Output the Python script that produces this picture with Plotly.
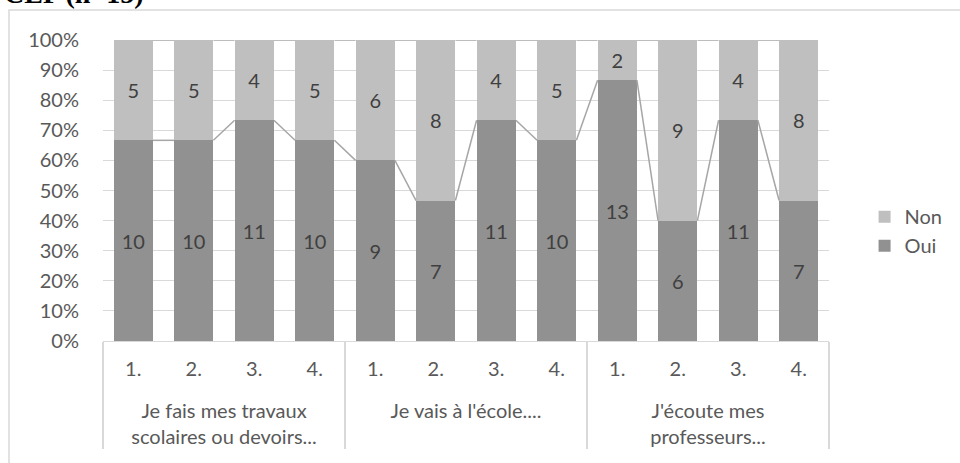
import plotly.graph_objects as go

groups = ["Je fais mes travaux<br>scolaires ou devoirs...",
          "Je vais à l'école....",
          "J'écoute mes<br>professeurs..."]
items = ["1.", "2.", "3.", "4."]
oui = [10, 10, 11, 10, 9, 7, 11, 10, 13, 6, 11, 7]
non = [5, 5, 4, 5, 6, 8, 4, 5, 2, 9, 4, 8]
title_text = "CEP (n=15)"

grp_x = [g for g in groups for _ in items]
item_x = [it + "<br> " for _ in groups for it in items]

C_OUI = "#919191"
C_NON = "#bfbfbf"
C_TXT = "#404040"
C_AX = "#595959"
C_GRID = "#d9d9d9"
FONT = "Lato"
FS = 20
BW = 0.65

fig = go.Figure()
for name, vals, col in (("Oui", oui, C_OUI), ("Non", non, C_NON)):
    fig.add_trace(go.Bar(name=name, x=[grp_x, item_x], y=vals, text=vals,
                         marker=dict(color=col, line=dict(width=0)),
                         width=BW, textposition="inside", insidetextanchor="middle",
                         textangle=0, constraintext="none",
                         textfont=dict(color=C_TXT, size=FS, family=FONT)))

# series lines (Excel style) computed from the data
pct = [o / (o + n) * 100 for o, n in zip(oui, non)]
tot = [100.0 for _ in oui]
for vals in (pct, tot):
    sx, sy = [], []
    for i in range(len(vals) - 1):
        sx += [i + BW / 2, i + 1 - BW / 2, None]
        sy += [vals[i], vals[i + 1], None]
    fig.add_trace(go.Scatter(x=sx, y=sy, xaxis="x2", yaxis="y", mode="lines",
                             line=dict(color="#a6a6a6", width=1.5),
                             showlegend=False, hoverinfo="skip"))

fig.update_layout(
    width=960, height=463,
    margin=dict(l=103, r=119, t=40, b=122),
    paper_bgcolor="white", plot_bgcolor="white",
    barmode="stack", barnorm="percent",
    font=dict(family=FONT, color=C_AX, size=FS),
    xaxis=dict(type="multicategory", range=[-0.5, 11.5], automargin=False,
               showline=True, linecolor=C_GRID, linewidth=1,
               showdividers=True, dividercolor=C_GRID, dividerwidth=1.5,
               tickfont=dict(size=FS, color=C_AX, family=FONT),
               ticklabelstandoff=10,
               ticks="", showgrid=False),
    xaxis2=dict(overlaying="x", range=[-0.5, 11.5], visible=False),
    yaxis=dict(range=[0, 100], dtick=10, ticksuffix="%", automargin=False,
               showgrid=True, gridcolor=C_GRID, gridwidth=1,
               zeroline=False, showline=False, ticks="",
               ticklabelstandoff=23,
               tickfont=dict(size=FS, color=C_AX, family=FONT)),
    legend=dict(x=1.049, xanchor="left", y=0.365, yanchor="middle",
                traceorder="reversed", font=dict(size=FS, color=C_AX, family=FONT),
                itemwidth=30, bgcolor="rgba(0,0,0,0)"),
    showlegend=True,
    shapes=[dict(type="rect", xref="paper", yref="paper",
                 xsizemode="pixel", ysizemode="pixel",
                 xanchor=0, yanchor=1, x0=-94, x1=900, y0=30, y1=-500,
                 line=dict(color=C_GRID, width=1.5), fillcolor="rgba(0,0,0,0)",
                 layer="below")],
    annotations=[dict(text="<b>" + title_text + "</b>", xref="paper", yref="paper",
                      x=0, y=1, xanchor="left", yanchor="bottom",
                      xshift=-101, yshift=29, showarrow=False,
                      font=dict(family="Liberation Serif", size=28, color="black"))],
)

fig.write_html("out.html", config={"displayModeBar": False},
               post_script="document.body.style.margin='0';")
